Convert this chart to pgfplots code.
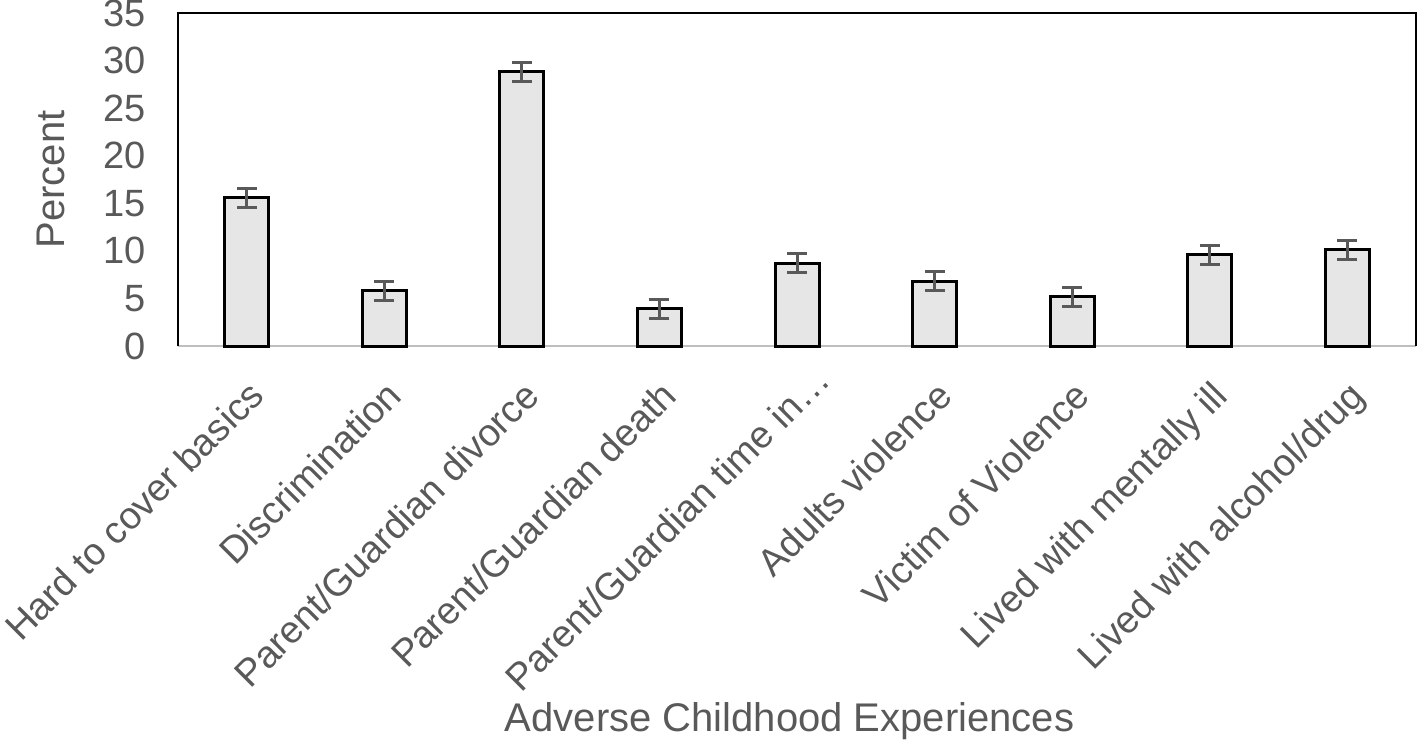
\documentclass[border=0pt]{standalone}
\usepackage{fontspec}
\setmainfont{Liberation Sans}
\usepackage{pgfplots}
\pgfplotsset{compat=1.18}
\definecolor{txt}{HTML}{595959}
\definecolor{barfill}{HTML}{E6E6E6}
\definecolor{errc}{HTML}{595959}
\definecolor{baseln}{HTML}{BFBFBF}
\begin{document}
\begin{tikzpicture}
\begin{axis}[
  name=ax,
  scale only axis,
  width=619pt, height=166.5pt,
  xmin=-0.5, xmax=8.5,
  ymin=0, ymax=35,
  ytick={0,5,...,35},
  xtick={0,...,8},
  xticklabels={Hard to cover basics,Discrimination,Parent/Guardian divorce,Parent/Guardian death,Parent/Guardian time in…\hspace*{-11pt},Adults violence,Victim of Violence,Lived with mentally ill,Lived with alcohol/drug},
  major tick length=0pt,
  axis line style={draw=none},
  tick label style={font=\fontsize{19}{22}\selectfont, text=txt},
  /pgf/number format/assume math mode=true,
  yticklabel style={anchor=east, inner sep=0pt, xshift=-16pt},
  xticklabel style={rotate=45, anchor=north east, inner sep=0pt},
  xticklabel shift=16pt,
  ylabel={Percent},
  xlabel={Adverse Childhood Experiences},
  every axis y label/.style={at={(axis description cs:-0.0913,0.5)}, rotate=90, anchor=base, inner sep=0pt, font=\fontsize{20}{24}\selectfont, text=txt},
  every axis x label/.style={at={(axis description cs:0.494,-1.159)}, anchor=base, inner sep=0pt, font=\fontsize{20}{24}\selectfont, text=txt},
  clip=false,
]
\draw[baseln, line width=1pt] (rel axis cs:0,0) -- (rel axis cs:1,0);
\draw[black, line width=1pt] (rel axis cs:0,0) -- (rel axis cs:0,1) -- (rel axis cs:1,1) -- (rel axis cs:1,0);
\addplot[ybar, bar width=22pt, fill=barfill, draw=black, line width=1.5pt,
  error bars/.cd, y dir=both, y explicit,
  error bar style={errc, line width=1.5pt},
  error mark options={errc, line width=1.5pt, mark size=5pt, rotate=90}]
  coordinates {
  (0,15.6) +- (0,1.0)
  (1,5.8) +- (0,1.0)
  (2,28.8) +- (0,1.05)
  (3,3.9) +- (0,1.0)
  (4,8.7) +- (0,1.0)
  (5,6.8) +- (0,1.0)
  (6,5.2) +- (0,1.0)
  (7,9.6) +- (0,1.0)
  (8,10.1) +- (0,1.0)
  };
\end{axis}
\pgfresetboundingbox
\path (-89pt,-199pt) rectangle (620.5pt,173pt);
\end{tikzpicture}
\end{document}
